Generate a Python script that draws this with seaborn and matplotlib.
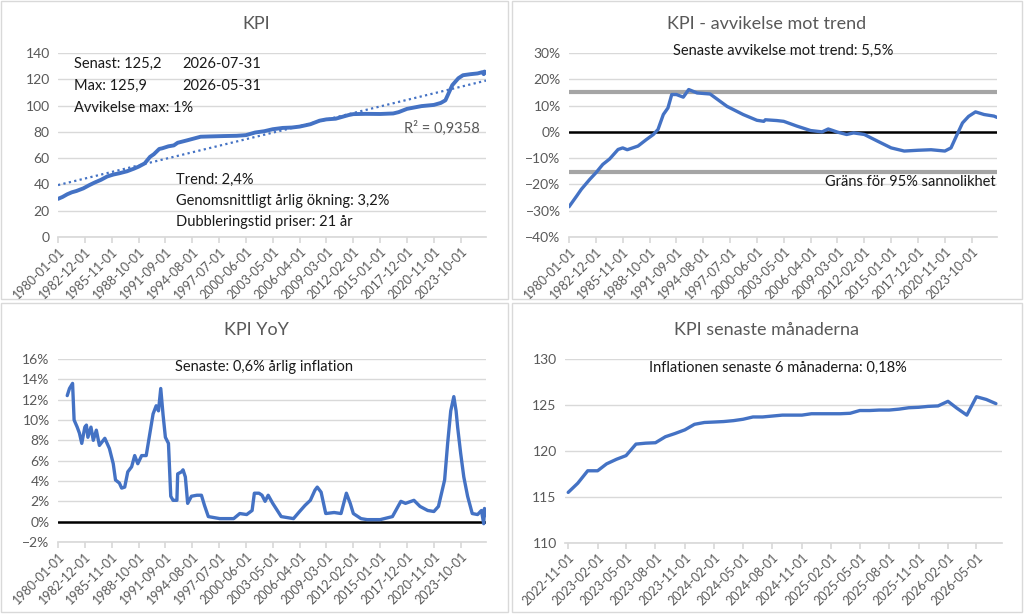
import pandas as pd
import matplotlib
matplotlib.use("Agg")
import matplotlib.pyplot as plt
import matplotlib.ticker as mticker
from matplotlib.patches import Rectangle
import seaborn as sns

# === DATA
kpi_dates = ['1980-01', '1980-07', '1981-01', '1981-07', '1982-01', '1982-10', '1983-06', '1984-01',
             '1984-09', '1985-05', '1986-01', '1986-09', '1987-07', '1988-04', '1988-10', '1989-06',
             '1990-01', '1990-06', '1991-01', '1991-05', '1992-01', '1992-08', '1993-01', '1994-01',
             '1995-07', '1996-06', '1998-01', '1999-06', '2000-06', '2001-06', '2002-06', '2003-05',
             '2004-06', '2005-06', '2006-04', '2007-06', '2008-06', '2009-03', '2010-03', '2011-08',
             '2012-02', '2013-06', '2015-01', '2016-06', '2017-01', '2017-12', '2019-07', '2020-11',
             '2021-08', '2022-02', '2022-11', '2023-07', '2024-01', '2024-11', '2025-08', '2026-02',
             '2026-04', '2026-05', '2026-07']
kpi_values = [29, 30.5, 32.5, 34, 35, 37, 39.5, 41.5,
              43.5, 46, 47.5, 48.5, 50, 52, 53.5, 56,
              61, 63, 67, 67.5, 69, 69.7, 71.7, 73.5,
              76.3, 76.5, 76.8, 77, 77.5, 79.5, 80.5, 82,
              83, 83.3, 84, 85.8, 88.5, 89.5, 90, 92.8,
              93.5, 93.7, 93.6, 94, 95, 97.5, 99.6, 100.5,
              102, 104, 115.5, 120.8, 123.1, 123.9, 124.45, 125.4,
              123.9, 125.9, 125.15]
trend_dates = ['1980-01', '2026-07']
trend_values = [39.5, 119]

dev_dates = ['1980-01', '1980-11', '1981-05', '1982-04', '1982-12', '1983-09', '1984-06', '1985-05',
             '1985-11', '1986-05', '1987-07', '1988-06', '1989-03', '1989-09', '1990-04', '1990-10',
             '1991-03', '1991-09', '1992-06', '1993-01', '1993-12', '1995-05', '1997-03', '1998-12',
             '2000-06', '2001-03', '2001-05', '2002-08', '2003-05', '2004-10', '2006-04', '2007-07',
             '2008-03', '2009-03', '2010-03', '2010-12', '2012-02', '2013-07', '2015-01', '2016-06',
             '2017-12', '2019-05', '2020-11', '2021-07', '2022-03', '2022-10', '2023-06', '2024-03',
             '2025-02', '2026-03', '2026-07']
dev_values = [-28.5, -24.4, -21.9, -18.1, -15.6, -12.4, -10.3, -6.7,
              -6.1, -6.8, -5.4, -2.9, -1.0, 0.9, 6.6, 9.1,
              14.2, 14.2, 13.2, 16.1, 14.8, 14.4, 9.7, 6.6,
              4.4, 4.0, 4.6, 4.3, 4.0, 2.2, 0.5, 0.0,
              1.1, -0.1, -1.0, -0.4, -1.0, -3.5, -6.1, -7.3,
              -7.0, -6.8, -7.3, -6.1, -1.0, 3.4, 5.9, 7.6,
              6.6, 6.0, 5.5]
limit_95 = 15.2

yoy_dates = ['1981-01', '1981-04', '1981-08', '1981-10', '1982-02', '1982-05', '1982-08', '1982-12',
             '1983-02', '1983-04', '1983-08', '1983-11', '1984-03', '1984-07', '1985-02', '1985-08',
             '1986-01', '1986-04', '1986-09', '1986-12', '1987-04', '1987-08', '1988-01', '1988-05',
             '1988-09', '1989-02', '1989-08', '1990-01', '1990-05', '1990-09', '1990-12', '1991-03',
             '1991-06', '1991-09', '1992-01', '1992-04', '1992-07', '1992-12', '1993-01', '1993-06',
             '1993-08', '1993-11', '1994-02', '1994-07', '1995-02', '1995-08', '1995-12', '1996-05',
             '1997-08', '1999-02', '1999-10', '2000-07', '2001-02', '2001-05', '2001-11', '2002-03',
             '2002-07', '2002-11', '2003-05', '2004-04', '2005-08', '2006-04', '2006-11', '2007-06',
             '2007-12', '2008-03', '2008-08', '2009-02', '2010-01', '2010-10', '2011-05', '2011-10',
             '2012-02', '2012-12', '2013-08', '2015-01', '2016-05', '2017-04', '2017-10', '2018-09',
             '2019-05', '2020-03', '2020-11', '2021-05', '2022-01', '2022-05', '2022-09', '2023-01',
             '2023-04', '2023-06', '2023-10', '2024-02', '2024-07', '2025-01', '2025-08', '2026-01',
             '2026-04', '2026-05', '2026-07']
yoy_values = [12.4, 13.1, 13.6, 10.0, 9.3, 8.7, 7.7, 9.3,
              9.5, 8.3, 9.3, 8.0, 9.0, 7.5, 8.2, 7.2,
              5.7, 4.1, 3.8, 3.3, 3.4, 4.9, 5.4, 6.5,
              5.7, 6.5, 6.5, 8.8, 10.6, 11.4, 10.9, 13.1,
              10.5, 8.3, 7.7, 2.5, 2.1, 2.1, 4.7, 4.9,
              5.1, 4.4, 1.8, 2.5, 2.6, 2.6, 1.6, 0.5,
              0.3, 0.3, 0.8, 0.7, 1.1, 2.8, 2.8, 2.6,
              2.0, 2.6, 1.8, 0.5, 0.3, 1.0, 1.6, 2.1,
              3.1, 3.4, 2.9, 0.8, 0.9, 0.8, 2.8, 1.8,
              0.8, 0.3, 0.2, 0.2, 0.5, 2.0, 1.8, 2.1,
              1.5, 1.1, 1.0, 1.5, 4.1, 7.7, 10.9, 12.3,
              10.9, 9.3, 6.7, 4.4, 2.5, 0.8, 0.7, 1.1,
              -0.2, 1.3, 0.6]

recent_start = '2022-11'
recent_values = [115.5, 116.5, 117.85, 117.85, 118.6, 119.1, 119.5, 120.75, 120.85, 120.9,
                 121.55, 121.9, 122.3, 122.9, 123.1, 123.15, 123.2, 123.3, 123.45, 123.7,
                 123.7, 123.8, 123.9, 123.9, 123.9, 124.05, 124.05, 124.05, 124.05, 124.1,
                 124.4, 124.4, 124.45, 124.45, 124.55, 124.7, 124.75, 124.85, 124.9, 125.4,
                 124.65, 123.9, 125.9, 125.6, 125.15]

long_ticks = ['1980-01-01', '1982-12-01', '1985-11-01', '1988-10-01', '1991-09-01', '1994-08-01',
              '1997-07-01', '2000-06-01', '2003-05-01', '2006-04-01', '2009-03-01', '2012-02-01',
              '2015-01-01', '2017-12-01', '2020-11-01', '2023-10-01']
recent_ticks = ['2022-11-01', '2023-02-01', '2023-05-01', '2023-08-01', '2023-11-01', '2024-02-01',
                '2024-05-01', '2024-08-01', '2024-11-01', '2025-02-01', '2025-05-01', '2025-08-01',
                '2025-11-01', '2026-02-01', '2026-05-01']

# === STYLE
sns.set_theme(style="white")
plt.rcParams['font.family'] = ['Lato', 'DejaVu Sans']
BLUE = '#4472C4'
GREY_TXT = '#595959'
GRID = '#d9d9d9'

W, H = 1024, 614
fig = plt.figure(figsize=(W / 100, H / 100), dpi=100)
fig.patch.set_facecolor('white')

# chart-area borders like Excel
for (x0, y0, x1, y1) in [(1, 1, 508, 299), (512, 1, 1022, 299), (1, 303, 508, 612), (512, 303, 1022, 612)]:
    fig.add_artist(Rectangle((x0 / W, 1 - y1 / H), (x1 - x0) / W, (y1 - y0) / H,
                             transform=fig.transFigure, fill=False, edgecolor=GRID, lw=1))


def add_ax(l, t, r, b):
    return fig.add_axes([l / W, 1 - b / H, (r - l) / W, (b - t) / H])


def ftext(x, y, s, **kw):
    kw.setdefault('va', 'center')
    kw.setdefault('fontsize', 10.5)
    kw.setdefault('color', '#1a1a1a')
    fig.text(x / W, 1 - y / H, s, **kw)


def style_ax(ax, ticks, labels, yticks):
    ax.set_yticks(yticks)
    ax.yaxis.grid(True, color=GRID, lw=1)
    ax.set_axisbelow(True)
    for s in ['top', 'right', 'left']:
        ax.spines[s].set_visible(False)
    ax.spines['bottom'].set_color(GRID)
    ax.set_xticks(ticks)
    ax.set_xticklabels(labels, rotation=45, ha='right', rotation_mode='anchor')
    ax.tick_params(axis='x', colors=GREY_TXT, labelsize=9, length=4, color=GRID, direction='out',
                   bottom=True, pad=2)
    ax.tick_params(axis='y', colors=GREY_TXT, labelsize=10, length=0, pad=6)
    ax.set_xlabel('')
    ax.set_ylabel('')


long_tick_pos = pd.to_datetime(long_ticks)
xmin, xmax = pd.Timestamp('1980-01-01'), pd.Timestamp('2026-07-01')

# === Panel 1: KPI
df_kpi = pd.DataFrame({'date': pd.to_datetime(kpi_dates), 'kpi': kpi_values})
df_trend = pd.DataFrame({'date': pd.to_datetime(trend_dates), 'trend': trend_values})
ax1 = add_ax(58, 53, 486, 237)
sns.lineplot(data=df_trend, x='date', y='trend', ax=ax1, color=BLUE, lw=1.6, linestyle=(0, (1, 1.5)))
sns.lineplot(data=df_kpi, x='date', y='kpi', ax=ax1, color=BLUE, lw=2.8)
ax1.set_ylim(0, 140)
ax1.set_xlim(xmin, xmax)
style_ax(ax1, long_tick_pos, long_ticks, range(0, 141, 20))
ftext(256, 24, 'KPI', ha='center', fontsize=13, color=GREY_TXT)
ftext(74, 64, 'Senast: 125,2')
ftext(182, 64, '2026-07-31')
ftext(74, 86, 'Max: 125,9')
ftext(182, 86, '2026-05-31')
ftext(74, 108, 'Avvikelse max: 1%')
ftext(480, 128, 'R² = 0,9358', ha='right', color=GREY_TXT)
ftext(176, 180, 'Trend: 2,4%')
ftext(176, 201, 'Genomsnittligt årlig ökning: 3,2%')
ftext(176, 222, 'Dubbleringstid priser: 21 år')

# === Panel 2: deviation from trend
df_dev = pd.DataFrame({'date': pd.to_datetime(dev_dates), 'dev': [v / 100 for v in dev_values]})
ax2 = add_ax(569, 53, 997, 237)
ax2.axhline(limit_95 / 100, color='#a5a5a5', lw=3)
ax2.axhline(-limit_95 / 100, color='#a5a5a5', lw=3)
ax2.axhline(0, color='black', lw=1.8)
sns.lineplot(data=df_dev, x='date', y='dev', ax=ax2, color=BLUE, lw=2.4)
ax2.set_ylim(-0.40, 0.30)
ax2.set_xlim(xmin, xmax)
style_ax(ax2, long_tick_pos, long_ticks, [i / 10 for i in range(-4, 4)])
ax2.yaxis.set_major_formatter(mticker.PercentFormatter(1.0, decimals=0))
ftext(767, 24, 'KPI - avvikelse mot trend', ha='center', fontsize=13, color=GREY_TXT)
ftext(783, 51, 'Senaste avvikelse mot trend: 5,5%', ha='center')
ftext(996, 182, 'Gräns för 95% sannolikhet', ha='right')

# === Panel 3: YoY
df_yoy = pd.DataFrame({'date': pd.to_datetime(yoy_dates), 'yoy': [v / 100 for v in yoy_values]})
ax3 = add_ax(58, 359, 486, 542)
ax3.axhline(0, color='black', lw=1.8)
sns.lineplot(data=df_yoy, x='date', y='yoy', ax=ax3, color=BLUE, lw=2.4)
ax3.set_ylim(-0.02, 0.16)
ax3.set_xlim(xmin, xmax)
style_ax(ax3, long_tick_pos, long_ticks, [i / 100 for i in range(-2, 17, 2)])
ax3.yaxis.set_major_formatter(mticker.PercentFormatter(1.0, decimals=0))
ftext(256, 330, 'KPI YoY', ha='center', fontsize=13, color=GREY_TXT)
ftext(264, 367, 'Senaste: 0,6% årlig inflation', ha='center')

# === Panel 4: recent months
recent_dates = pd.date_range(recent_start + '-01', periods=len(recent_values), freq='MS')
df_rec = pd.DataFrame({'date': recent_dates, 'kpi': recent_values})
ax4 = add_ax(565, 359, 1002, 543)
sns.lineplot(data=df_rec, x='date', y='kpi', ax=ax4, color=BLUE, lw=2.4)
ax4.set_ylim(110, 130)
ax4.set_xlim(pd.Timestamp('2022-10-22'), pd.Timestamp('2026-07-20'))
style_ax(ax4, pd.to_datetime(recent_ticks), recent_ticks, range(110, 131, 5))
ftext(767, 330, 'KPI senaste månaderna', ha='center', fontsize=13, color=GREY_TXT)
ftext(778, 368, 'Inflationen senaste 6 månaderna: 0,18%', ha='center')

fig.savefig('out.png', dpi=100)
